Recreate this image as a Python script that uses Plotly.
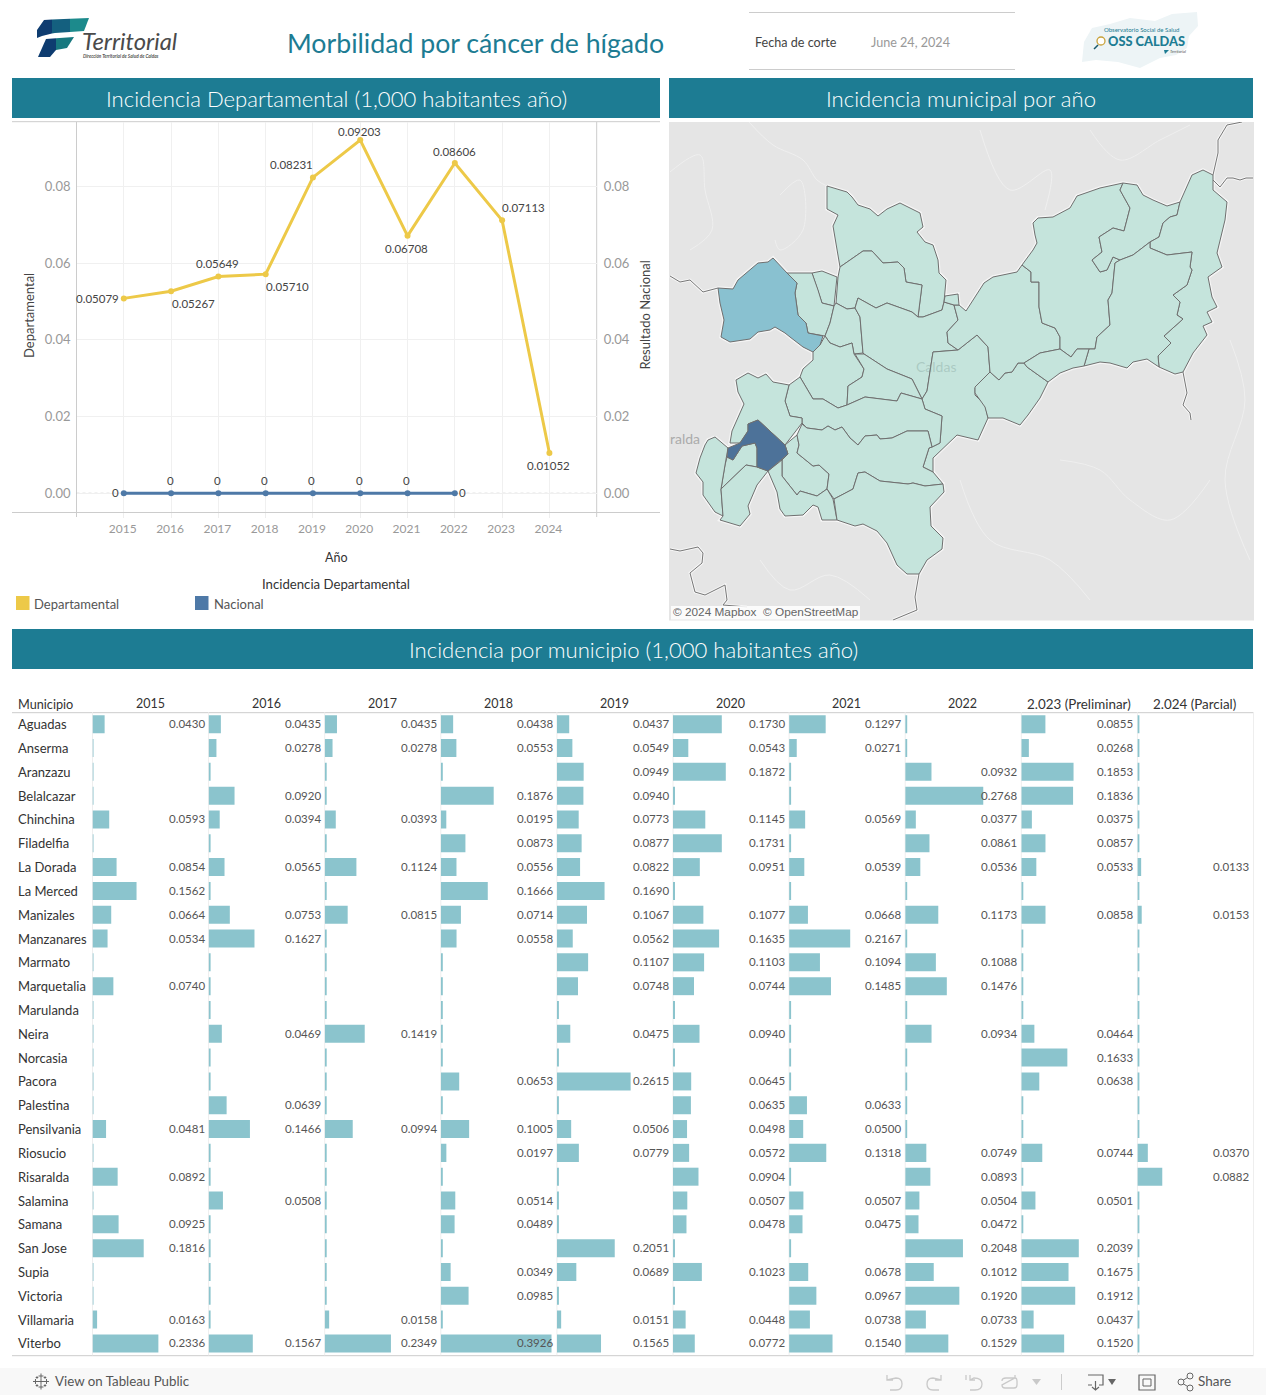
import plotly.graph_objects as go

W, H = 1266, 1395
FONT = "Lato"
TEAL = "#1d7c93"

# ---------- line chart data ----------
YEARS = [2015, 2016, 2017, 2018, 2019, 2020, 2021, 2022, 2023, 2024]
DEPARTAMENTAL = [0.05079, 0.05267, 0.05649, 0.05710, 0.08231, 0.09203, 0.06708, 0.08606, 0.07113, 0.01052]
DEP_LABELS = ["0.05079", "0.05267", "0.05649", "0.05710", "0.08231", "0.09203", "0.06708", "0.08606", "0.07113", "0.01052"]
DEP_ANCHOR = ["right", "left", "center", "left", "right", "center", "center", "center", "left", "center"]
DEP_SHIFT = [(-4, 0), (0, -12), (-1, 13), (-1, -12), (1, 13), (-1, 9), (-1, -13), (0, 12), (-1, 13), (-1, -13)]
NACIONAL_YEARS = [2015, 2016, 2017, 2018, 2019, 2020, 2021, 2022]
NACIONAL = [0, 0, 0, 0, 0, 0, 0, 0]
NAC_ANCHOR = ["right", "center", "center", "center", "center", "center", "center", "left"]
NAC_SHIFT = [(-4, 1), (-1, 13), (-1, 13), (-1, 13), (-1, 13), (-1, 13), (-1, 13), (3, 1)]
Y_TICKS = [0.0, 0.02, 0.04, 0.06, 0.08]

# ---------- table data ----------
COLUMNS = ["2015", "2016", "2017", "2018", "2019", "2020", "2021", "2022", "2.023 (Preliminar)", "2.024 (Parcial)"]
MUNICIPIOS = ["Aguadas", "Anserma", "Aranzazu", "Belalcazar", "Chinchina", "Filadelfia", "La Dorada", "La Merced",
              "Manizales", "Manzanares", "Marmato", "Marquetalia", "Marulanda", "Neira", "Norcasia", "Pacora",
              "Palestina", "Pensilvania", "Riosucio", "Risaralda", "Salamina", "Samana", "San Jose", "Supia",
              "Victoria", "Villamaria", "Viterbo"]
N = None
V2015 = [.0430, N, N, N, .0593, N, .0854, .1562, .0664, .0534, N, .0740, N, N, N, N, N, .0481, N, .0892, N, .0925, .1816, N, N, .0163, .2336]
V2016 = [.0435, .0278, N, .0920, .0394, N, .0565, N, .0753, .1627, N, N, N, .0469, N, N, .0639, .1466, N, N, .0508, N, N, N, N, N, .1567]
V2017 = [.0435, .0278, N, N, .0393, N, .1124, N, .0815, N, N, N, N, .1419, N, N, N, .0994, N, N, N, N, N, N, N, .0158, .2349]
V2018 = [.0438, .0553, N, .1876, .0195, .0873, .0556, .1666, .0714, .0558, N, N, N, N, N, .0653, N, .1005, .0197, N, .0514, .0489, N, .0349, .0985, N, .3926]
V2019 = [.0437, .0549, .0949, .0940, .0773, .0877, .0822, .1690, .1067, .0562, .1107, .0748, N, .0475, N, .2615, N, .0506, .0779, N, N, N, .2051, .0689, N, .0151, .1565]
V2020 = [.1730, .0543, .1872, N, .1145, .1731, .0951, N, .1077, .1635, .1103, .0744, N, .0940, N, .0645, .0635, .0498, .0572, .0904, .0507, .0478, N, .1023, N, .0448, .0772]
V2021 = [.1297, .0271, N, N, .0569, N, .0539, N, .0668, .2167, .1094, .1485, N, N, N, N, .0633, .0500, .1318, N, .0507, .0475, N, .0678, .0967, .0738, .1540]
V2022 = [N, N, .0932, .2768, .0377, .0861, .0536, N, .1173, N, .1088, .1476, N, .0934, N, N, N, N, .0749, .0893, .0504, .0472, .2048, .1012, .1920, .0733, .1529]
V2023 = [.0855, .0268, .1853, .1836, .0375, .0857, .0533, N, .0858, N, N, N, N, .0464, .1633, .0638, N, N, .0744, N, .0501, N, .2039, .1675, .1912, .0437, .1520]
V2024 = [N, N, N, N, N, N, .0133, N, .0153, N, N, N, N, N, N, N, N, N, .0370, .0882, N, N, N, N, N, N, N]
TABLE = [V2015, V2016, V2017, V2018, V2019, V2020, V2021, V2022, V2023, V2024]
EMPTY_STUB = [.003, .006, .006, .006, .006, .006, .006, .006, .006, .006]

# ---------- map outlines (map units) ----------
M01 = [(827,186),(847,192),(852,197),(858,205),(870,209),(878,216),(887,209),(900,203),(920,213),(923,227),(917,232),(925,242),(933,245),(938,260),(939,273),(946,280),(944,302),(942,310),(923,317),(918,317),(922,285),(906,282),(904,268),(898,262),(883,263),(872,251),(863,251),(840,267),(833,226),(838,215),(827,209)]
M02 = [(840,267),(863,251),(872,251),(883,263),(898,262),(904,268),(906,282),(922,285),(918,317),(912,312),(887,303),(876,308),(858,298),(855,308),(847,309),(836,303),(838,277)]
M03 = [(812,273),(822,271),(837,277),(834,306),(822,303),(818,290)]
M04 = [(787,273),(812,273),(818,290),(822,303),(834,306),(830,323),(825,336),(808,333),(806,323),(798,315),(795,293),(797,283)]
M05 = [(836,303),(847,309),(855,308),(860,317),(863,353),(854,354),(852,343),(840,347),(830,343),(825,336),(830,323),(834,306)]
M06 = [(858,298),(876,308),(887,303),(912,312),(918,317),(923,317),(942,310),(944,302),(954,305),(958,320),(947,332),(948,343),(958,350),(933,352),(927,391),(922,399),(912,379),(887,369),(864,354),(863,353),(860,317),(855,308)]
M07 = [(933,352),(958,350),(977,335),(988,347),(990,372),(975,388),(975,395),(985,405),(988,418),(978,440),(957,435),(937,455),(933,458),(933,472),(923,467),(929,448),(932,447),(940,443),(942,416),(925,409),(922,399),(927,391)]
M08 = [(975,387),(990,372),(999,380),(1005,373),(1012,372),(1018,363),(1024,363),(1027,367),(1048,382),(1040,398),(1028,415),(1020,425),(1003,418),(988,418),(985,407),(975,393)]
M09 = [(966,311),(984,283),(993,277),(1017,272),(1022,265),(1031,272),(1031,282),(1039,282),(1039,307),(1042,323),(1055,328),(1060,337),(1060,349),(1040,353),(1024,363),(1018,363),(1012,372),(1005,373),(999,380),(990,372),(988,347),(977,335),(958,350),(948,343),(947,332),(958,320),(954,305),(959,305)]
M10 = [(944,302),(945,296),(958,294),(959,305),(954,305)]
M11 = [(1022,265),(1033,250),(1037,243),(1035,235),(1033,223),(1038,218),(1053,217),(1070,208),(1077,196),(1100,188),(1123,183),(1120,190),(1130,208),(1124,231),(1113,228),(1099,237),(1102,252),(1092,260),(1100,272),(1107,270),(1113,257),(1120,260),(1115,263),(1112,293),(1108,300),(1110,325),(1097,337),(1095,349),(1077,349),(1071,357),(1060,349),(1060,337),(1055,328),(1042,323),(1039,307),(1039,282),(1031,282),(1031,272)]
M12 = [(1123,183),(1137,185),(1143,195),(1153,200),(1167,206),(1180,202),(1177,215),(1170,217),(1163,223),(1159,237),(1150,242),(1133,255),(1120,260),(1113,257),(1107,270),(1100,272),(1092,260),(1102,252),(1099,237),(1113,228),(1124,231),(1130,208),(1120,190)]
M13 = [(1180,202),(1187,187),(1192,175),(1203,170),(1213,175),(1213,190),(1227,202),(1225,220),(1220,240),(1217,253),(1222,267),(1208,277),(1212,297),(1217,307),(1207,312),(1212,322),(1203,326),(1207,335),(1193,353),(1183,372),(1175,374),(1159,367),(1158,356),(1171,343),(1164,336),(1183,319),(1177,315),(1180,302),(1173,295),(1187,285),(1192,270),(1190,267),(1192,252),(1167,255),(1150,248),(1150,242),(1159,237),(1163,223),(1170,217),(1177,215)]
M14 = [(1150,242),(1150,248),(1167,255),(1192,252),(1190,267),(1192,270),(1187,285),(1173,295),(1180,302),(1177,315),(1183,319),(1164,336),(1171,343),(1158,356),(1159,367),(1147,359),(1133,362),(1127,368),(1110,363),(1100,362),(1084,366),(1089,349),(1095,349),(1097,337),(1110,325),(1108,300),(1112,293),(1115,263),(1120,260),(1133,255)]
M15 = [(1060,349),(1071,357),(1077,349),(1089,349),(1084,366),(1073,368),(1060,373),(1048,382),(1027,367),(1024,363),(1040,353)]
M16 = [(825,336),(830,343),(840,347),(852,343),(854,354),(864,369),(862,377),(848,386),(847,405),(838,408),(823,399),(813,399),(800,377),(803,369),(813,360),(813,352),(820,345)]
M17 = [(855,354),(864,354),(887,369),(912,379),(922,399),(901,393),(897,401),(865,397),(847,405),(848,386),(862,377),(864,369)]
M18 = [(922,399),(925,409),(942,416),(940,443),(932,447),(928,431),(907,431),(892,438),(880,439),(877,435),(865,436),(858,445),(850,438),(842,427),(835,430),(828,426),(822,430),(807,428),(802,423),(802,418),(790,416),(785,401),(789,385),(800,377),(813,399),(823,399),(838,408),(847,405),(865,397),(897,401),(901,393)]
M19 = [(736,380),(748,373),(758,378),(766,374),(773,382),(789,385),(785,401),(790,416),(802,418),(802,423),(785,445),(775,436),(758,420),(748,424),(748,431),(740,443),(730,443),(732,431),(742,408),(744,404),(738,392)]
M20 = [(742,446),(755,443),(757,448),(757,467),(746,465),(721,489),(725,465),(727,457),(733,460)]
M21 = [(715,437),(728,448),(725,465),(721,489),(723,516),(715,512),(703,495),(703,482),(696,473),(700,458),(705,445),(708,440)]
M22 = [(721,489),(746,465),(757,467),(768,471),(757,485),(748,506),(750,514),(740,526),(720,520),(723,516)]
M23 = [(797,435),(799,445),(797,453),(813,466),(819,465),(829,474),(827,489),(817,496),(800,491),(797,495),(782,476),(782,460),(788,454),(785,445)]
M24 = [(802,424),(807,428),(822,430),(828,426),(835,430),(842,427),(850,438),(858,445),(865,436),(877,435),(880,439),(892,438),(907,431),(928,431),(932,447),(929,448),(923,467),(933,472),(943,484),(925,486),(913,483),(908,484),(880,481),(865,472),(858,473),(853,489),(834,499),(827,489),(829,474),(819,465),(813,466),(797,453),(799,445),(797,435)]
M25 = [(768,471),(782,460),(782,476),(797,495),(800,491),(817,496),(827,489),(833,499),(837,520),(822,520),(818,507),(813,505),(803,515),(785,516),(780,509),(777,492)]
M26 = [(834,499),(853,489),(858,473),(865,472),(880,481),(908,484),(913,483),(925,486),(943,484),(944,492),(930,507),(931,526),(943,538),(942,549),(927,560),(919,574),(907,574),(897,565),(887,543),(877,531),(863,524),(855,526),(837,520)]
MAP_LIGHT = [M01, M02, M03, M04, M05, M06, M07, M08, M09, M10, M11, M12, M13, M14, M15, M16, M17, M18, M19, M20, M21, M22, M23, M24, M25, M26]
MAP_MEDIUM = [[(718,288),(733,289),(738,280),(758,263),(768,262),(773,258),(787,273),(797,283),(795,293),(798,315),(806,323),(808,333),(823,336),(820,345),(813,352),(803,347),(790,337),(785,333),(775,327),(770,330),(758,332),(750,339),(730,342),(721,337),(724,320),(720,303)]]
MAP_DARK = [[(758,420),(775,436),(785,445),(788,454),(768,471),(757,467),(757,448),(755,443),(742,446),(733,460),(727,457),(728,448),(740,443),(748,431),(748,424)]]
MAP_BORDERS = [
    [(1213,175),(1218,153),(1218,140),(1227,125),(1242,122)],
    [(1213,180),(1220,187),(1227,178),(1233,178),(1240,180),(1246,178),(1253,178)],
    [(1183,372),(1187,393),(1183,405),(1190,413),(1191,420)],
    [(670,276),(680,282),(690,280),(703,292),(718,288)],
    [(670,549),(680,551),(698,547),(703,553),(702,563),(690,573),(695,592),(705,595),(725,585),(727,600),(723,605),(747,607)],
    [(919,574),(915,597),(917,610),(893,620)],
]
MAP_RIVERS = [
    [(749,122),(773,145),(803,160),(817,180),(827,186)],
    [(670,172),(700,155),(705,190),(712,230),(690,250)],
    [(780,195),(800,180),(803,230),(780,250),(775,240)],
    [(1090,130),(1120,160),(1160,140),(1190,125)],
    [(980,130),(1010,190),(1050,170),(1045,210)],
    [(1060,460),(1100,470),(1130,500),(1170,520),(1210,480)],
    [(960,480),(990,540),(1050,560),(1090,600)],
    [(760,560),(790,590),(830,575),(870,600)],
    [(1230,340),(1245,400),(1225,480),(1250,560)],
]
MAP_MIN_X, MAP_MAX_X, MAP_MIN_Y, MAP_MAX_Y = 669, 1254, 122, 620.5


def px(x):
    return x / W


def py(y):
    return 1 - y / H


shapes, annots, traces = [], [], []


def rect(x0, y0, x1, y1, color, layer="below"):
    shapes.append(dict(type="rect", xref="paper", yref="paper", x0=px(x0), x1=px(x1), y0=py(y0), y1=py(y1),
                       fillcolor=color, line_width=0, layer=layer))


def hline(x0, x1, y, color="#cccccc", width=1):
    shapes.append(dict(type="line", xref="paper", yref="paper", x0=px(x0), x1=px(x1), y0=py(y), y1=py(y),
                       line=dict(color=color, width=width), layer="below"))


def vline(x, y0, y1, color="#cccccc", width=1):
    shapes.append(dict(type="line", xref="paper", yref="paper", x0=px(x), x1=px(x), y0=py(y0), y1=py(y1),
                       line=dict(color=color, width=width), layer="below"))


def label(text, x, y, size=12, color="#444444", anchor="left", angle=0, weight=None, family=FONT, italic=False, bg=None):
    f = dict(family=family, size=size, color=color)
    if weight:
        f["weight"] = weight
    if italic:
        f["style"] = "italic"
    if anchor == "left":
        x -= 1
    annots.append(dict(text=text, xref="paper", yref="paper", x=px(x), y=py(y - 1), xanchor=anchor, yanchor="middle",
                       showarrow=False, font=f, textangle=angle, borderpad=0, bgcolor=bg))


def icon(path, color="#c9c9c9", width=1.3, fill=None, layer="above"):
    """Small chrome and logo glyphs, in page pixels."""
    out, toks = [], path.split()
    i = 0
    while i < len(toks):
        t = toks[i]
        if t.isalpha():
            out.append(t)
            i += 1
        else:
            out.append(f"{px(float(t)):.5f},{py(float(toks[i + 1])):.5f}")
            i += 2
    shapes.append(dict(type="path", xref="paper", yref="paper", path=" ".join(out),
                       line=dict(color=color, width=width) if width else dict(width=0),
                       fillcolor=fill or "rgba(0,0,0,0)", layer=layer))


def ring(cx, cy, r, color="#666666", width=1, fill="rgba(0,0,0,0)"):
    shapes.append(dict(type="circle", xref="paper", yref="paper", x0=px(cx - r), x1=px(cx + r), y0=py(cy + r), y1=py(cy - r),
                       line=dict(color=color, width=width), fillcolor=fill, layer="above"))


# ---------- header ----------
rect(12, 78, 660, 118, TEAL)
rect(669, 78, 1253, 118, TEAL)
rect(12, 629, 1253, 669, TEAL)
label("Incidencia Departamental (1,000 habitantes año)", 336, 99.5, 22.1, "white", "center", weight=300)
label("Incidencia municipal por año", 961, 99.5, 22.1, "white", "center", weight=300)
label("Incidencia por municipio (1,000 habitantes año)", 633, 650.5, 22.1, "white", "center", weight=300)
label("Morbilidad por cáncer de hígado", 475.5, 43.5, 26.7, TEAL, "center")
hline(749, 1015, 12.5)
hline(749, 1015, 69.5)
label("Fecha de corte", 754.5, 43, 12.6, "#444444")
label("June 24, 2024", 870.5, 43, 12.6, "#999999")

# Territorial logo
icon("M 37 38 L 37 30 L 44 20 L 52 19.6 L 52 33.5 L 42 36 Z", "", 0, "#0e3c70")
icon("M 52 19.6 L 70 18.8 L 70 32 L 55 33 L 52 33.5 Z", "", 0, "#14607f")
icon("M 70 18.8 L 89 18 L 84 31 L 70 32 Z", "", 0, "#1c8a8c")
icon("M 38 57 L 46 39 L 56 38.3 L 56 50 L 50 57 Z", "", 0, "#0e3c70")
icon("M 56 38.3 L 74 37 L 67 48 L 56 50 Z", "", 0, "#17787f")
label("Territorial", 82, 41.5, 23.8, "#4a4a4a", italic=True)
label("Dirección Territorial de Salud de Caldas", 83, 57.5, 4.6, "#555555", italic=True, weight=700)

# OSS logo
icon("M 1084 42 L 1092 28 L 1110 24 L 1130 18 L 1155 21 L 1172 14 L 1197 12 L 1198 26 L 1189 36 L 1187 48 L 1176 55 L 1160 58 L 1140 68 L 1118 62 L 1096 60 L 1082 62 Z",
     "", 0, "#edf4f6", "below")
label("Observatorio Social de Salud", 1141, 30, 6, TEAL, "center")
label("OSS CALDAS", 1108, 42, 12.8, TEAL, weight=900)
ring(1101, 41, 4, "#c9a23a", 1.3, "#ffffff")
icon("M 1098 45 L 1094 49", "#17596b", 1.5)
icon("M 1164 50 L 1169 50 L 1165 54 Z", "", 0, TEAL)
label("Territorial", 1170, 53, 4, "#555555", italic=True)

# ---------- line chart ----------
line_dom_x = [px(76.5), px(596.7)]
line_dom_y = [py(512.3), py(121.7)]
Y_RANGE = [-0.00495, 0.09683]
hline(12, 660, 121.7)
hline(12, 660, 512.5)
vline(76.5, 122, 517)
vline(596.7, 122, 517)
shapes.append(dict(type="line", xref="x", yref="y", x0=2014, x1=2025, y0=0, y1=0,
                   line=dict(color="#bbbbbb", width=1, dash="dot"), layer="below"))

traces.append(go.Scatter(x=NACIONAL_YEARS, y=NACIONAL, mode="lines+markers", xaxis="x", yaxis="y2",
                         line=dict(color="#4e79a7", width=3), marker=dict(color="#4e79a7", size=6), hoverinfo="skip"))
traces.append(go.Scatter(x=YEARS, y=DEPARTAMENTAL, mode="lines+markers", xaxis="x", yaxis="y",
                         line=dict(color="#edc948", width=3), marker=dict(color="#edc948", size=6), hoverinfo="skip"))

for yr, v, t, a, s in zip(YEARS, DEPARTAMENTAL, DEP_LABELS, DEP_ANCHOR, DEP_SHIFT):
    annots.append(dict(text=t, xref="x", yref="y", x=yr, y=v, xanchor=a, yanchor="middle", showarrow=False,
                       xshift=s[0], yshift=s[1], borderpad=0, font=dict(family=FONT, size=11.5, color="#444444")))
for yr, v, a, s in zip(NACIONAL_YEARS, NACIONAL, NAC_ANCHOR, NAC_SHIFT):
    annots.append(dict(text=str(v), xref="x", yref="y2", x=yr, y=v, xanchor=a, yanchor="middle", showarrow=False,
                       xshift=s[0], yshift=s[1], borderpad=0, font=dict(family=FONT, size=11.5, color="#444444")))

label("Departamental", 28.5, 316.5, 13, "#444444", "center", angle=-90)
label("Resultado Nacional", 644.5, 316, 13, "#444444", "center", angle=-90)
label("Año", 336, 558, 12.5, "#333333", "center")
label("Incidencia Departamental", 336, 585, 13.2, "#333333", "center")
rect(16, 596, 29.5, 610, "#edc948")
rect(195, 596, 208.5, 610, "#4e79a7")
label("Departamental", 34, 604.5, 13, "#555555")
label("Nacional", 214, 604.5, 13, "#555555")

# ---------- map ----------
rect(MAP_MIN_X, MAP_MIN_Y, MAP_MAX_X, MAP_MAX_Y, "#e5e5e5")


def map_xy(points, close=True):
    xs = [p[0] for p in points]
    ys = [p[1] for p in points]
    if close:
        xs.append(xs[0])
        ys.append(ys[0])
    return xs, ys


for riv in MAP_RIVERS:
    xs, ys = map_xy(riv, False)
    traces.append(go.Scatter(x=xs, y=ys, mode="lines", xaxis="x3", yaxis="y3", hoverinfo="skip",
                             line=dict(color="#efefef", width=1, shape="spline")))
for poly in MAP_LIGHT + MAP_MEDIUM + MAP_DARK:
    xs, ys = map_xy(poly)
    traces.append(go.Scatter(x=xs, y=ys, mode="lines", xaxis="x3", yaxis="y3", hoverinfo="skip",
                             line=dict(color="rgba(255,255,255,0.6)", width=3.5)))
for brd in MAP_BORDERS:
    xs, ys = map_xy(brd, False)
    traces.append(go.Scatter(x=xs, y=ys, mode="lines", xaxis="x3", yaxis="y3", hoverinfo="skip",
                             line=dict(color="rgba(255,255,255,0.6)", width=3)))
    traces.append(go.Scatter(x=xs, y=ys, mode="lines", xaxis="x3", yaxis="y3", hoverinfo="skip",
                             line=dict(color="#777777", width=1)))
for polys, col in ((MAP_LIGHT, "#c5e4dc"), (MAP_MEDIUM, "#89c1d0"), (MAP_DARK, "#4d7299")):
    for poly in polys:
        xs, ys = map_xy(poly)
        traces.append(go.Scatter(x=xs, y=ys, mode="lines", fill="toself", fillcolor=col, xaxis="x3", yaxis="y3",
                                 hoverinfo="skip", line=dict(color="#6f6f6f", width=1)))
label("Caldas", 936, 367.5, 14, "rgba(120,150,145,0.35)", "center")
label("ralda", 670, 439.5, 14, "#ababab")
rect(671, 606, 860, 619.5, "rgba(255,255,255,0.85)", "above")
label("© 2024 Mapbox  © OpenStreetMap", 673, 612.5, 11.8, "#666666", family="Liberation Sans")

# ---------- table ----------
TABLE_LEFT, TABLE_RIGHT, TABLE_TOP, TABLE_BOTTOM = 92.5, 1253.5, 712.3, 1355.3
COL_W = (TABLE_RIGHT - TABLE_LEFT) / len(COLUMNS)
PX_PER_UNIT = 282.0
X_MAX = COL_W / PX_PER_UNIT
LABEL_X = (COL_W - 3) / PX_PER_UNIT

hline(12, 1253.5, TABLE_TOP + 0.4, "#cccccc")
hline(12, 1253.5, TABLE_BOTTOM + 0.4, "#cccccc")
vline(TABLE_RIGHT, TABLE_TOP, TABLE_BOTTOM, "#eeeeee")
label("Municipio", 18, 704.5, 12.7, "#333333")

axes = {}
for i, (name, vals, stub) in enumerate(zip(COLUMNS, TABLE, EMPTY_STUB)):
    ax_id = i + 4
    x0 = TABLE_LEFT + i * COL_W
    axes[f"xaxis{ax_id}"] = dict(domain=[px(x0), px(x0 + COL_W)], range=[0, X_MAX], anchor="y4", visible=False,
                                 fixedrange=True)
    vline(x0, TABLE_TOP, TABLE_BOTTOM, "#eeeeee")
    bar_x = [v if v is not None else stub for v in vals]
    traces.append(go.Bar(x=bar_x, y=MUNICIPIOS, orientation="h", xaxis=f"x{ax_id}", yaxis="y4",
                         marker=dict(color="#8bc4cd", line_width=0), hoverinfo="skip"))
    for m, v in zip(MUNICIPIOS, vals):
        if v is not None:
            annots.append(dict(text=f"{v:.4f}", xref=f"x{ax_id}", yref="y4", x=LABEL_X, y=m, xanchor="right",
                               yanchor="middle", showarrow=False, borderpad=0, yshift=0.5,
                               font=dict(family=FONT, size=11.5, color="#555555")))
    label(name, x0 + COL_W / 2 - 0.5, 704.5, 12.5 if i < 8 else 13.4, "#333333", "center")

for m in MUNICIPIOS:
    annots.append(dict(text=m, xref="paper", yref="y4", x=px(16.5), y=m, xanchor="left", yanchor="middle", showarrow=False,
                       borderpad=0, yshift=0, font=dict(family=FONT, size=13, color="#333333")))

# ---------- toolbar ----------
rect(0, 1368, W, H, "#f8f8f8")
label("View on Tableau Public", 54.5, 1382, 13.3, "#555555")
for cx, cy, r in ((41, 1376, 2.5), (41, 1387, 2.5), (35.5, 1381.5, 2.5), (46.5, 1381.5, 2.5), (41, 1381.5, 3),
                  (37, 1377.5, 1.3), (45, 1377.5, 1.3), (37, 1385.5, 1.3), (45, 1385.5, 1.3)):
    icon(f"M {cx - r} {cy} L {cx + r} {cy} M {cx} {cy - r} L {cx} {cy + r}", "#666666", 1)
icon("M 887 1375 L 887 1380 L 893 1380 M 887 1380 L 896 1378 Q 902 1378 902 1384 Q 902 1390 896 1390 L 890 1390")
icon("M 941 1375 L 941 1380 L 935 1380 M 941 1380 L 933 1378 Q 927 1378 927 1384 Q 927 1390 933 1390 L 939 1390")
icon("M 966 1375 L 966 1380 M 970 1375 L 970 1380 L 975 1380 M 970 1380 L 974 1378 Q 982 1378 982 1384 Q 982 1390 975 1390 L 970 1390")
icon("M 1002 1381 Q 1002 1378 1006 1378 L 1015 1378 L 1015 1375 M 1015 1378 Q 1017 1378 1017 1381 L 1017 1385 Q 1017 1388 1014 1388 L 1005 1388 Q 1002 1388 1002 1385 Z")
icon("M 1032 1379 L 1041 1379 L 1036.5 1385 Z", "", 0, "#c9c9c9")
vline(1061.5, 1374, 1390, "#cccccc")
icon("M 1088 1375 L 1103 1375 L 1103 1385 L 1099 1385 M 1092 1385 L 1088 1385 Z M 1095.5 1381 L 1095.5 1390 M 1092 1387 L 1095.5 1390 L 1099 1387", "#666666", 1.2)
icon("M 1108 1379 L 1116 1379 L 1112 1385 Z", "", 0, "#666666")
icon("M 1139 1375 L 1155 1375 L 1155 1390 L 1139 1390 Z", "#666666", 1.2)
icon("M 1143 1379 L 1151 1379 L 1151 1386 L 1143 1386 Z", "#666666", 1)
icon("M 1182 1381 L 1190 1376 M 1182 1383 L 1190 1388", "#666666", 1)
for cx, cy, r in ((1181, 1382, 3), (1190, 1376, 3), (1190, 1388, 3)):
    ring(cx, cy, r, "#666666", 1, "#f8f8f8")
label("Share", 1197.5, 1382, 13.5, "#555555")

# ---------- layout ----------
fig = go.Figure(traces)
layout = dict(
    width=W, height=H, margin=dict(l=0, r=0, t=0, b=0), autosize=False, paper_bgcolor="white", plot_bgcolor="rgba(0,0,0,0)",
    showlegend=False, bargap=0.244, shapes=shapes, annotations=annots, font=dict(family=FONT),
    xaxis=dict(domain=line_dom_x, range=[2014, 2025], tickvals=YEARS, showgrid=True, gridcolor="#f0f0f0", zeroline=False,
               ticks="outside", ticklen=5, tickcolor="#eeeeee", showline=False, anchor="y", ticklabelshift=-1,
               tickfont=dict(family=FONT, size=12, color="#999999"), fixedrange=True, ticklabelstandoff=0),
    yaxis=dict(domain=line_dom_y, range=Y_RANGE, tickvals=Y_TICKS, tickformat=".2f", showgrid=True, gridcolor="#f0f0f0",
               zeroline=False, showline=False, anchor="x", tickfont=dict(family=FONT, size=13, color="#999999"),
               fixedrange=True, ticklabelstandoff=5),
    yaxis2=dict(domain=line_dom_y, range=Y_RANGE, tickvals=Y_TICKS, tickformat=".2f", showgrid=False, zeroline=False,
                overlaying="y", side="right", anchor="x", tickfont=dict(family=FONT, size=13, color="#999999"),
                fixedrange=True, ticklabelstandoff=6),
    xaxis3=dict(domain=[px(MAP_MIN_X), px(MAP_MAX_X)], range=[MAP_MIN_X, MAP_MAX_X], visible=False, anchor="y3", fixedrange=True),
    yaxis3=dict(domain=[py(MAP_MAX_Y), py(MAP_MIN_Y)], range=[MAP_MAX_Y, MAP_MIN_Y], visible=False, anchor="x3", fixedrange=True),
    yaxis4=dict(domain=[py(TABLE_BOTTOM), py(TABLE_TOP)], type="category", categoryorder="array", categoryarray=MUNICIPIOS,
                range=[len(MUNICIPIOS) - 0.5, -0.5], visible=False, anchor="x4", fixedrange=True),
)
layout.update(axes)
fig.update_layout(**layout)
fig.write_html("out.html", config={"displayModeBar": False},
               post_script="document.body.style.margin='0';document.body.style.overflow='hidden';")
